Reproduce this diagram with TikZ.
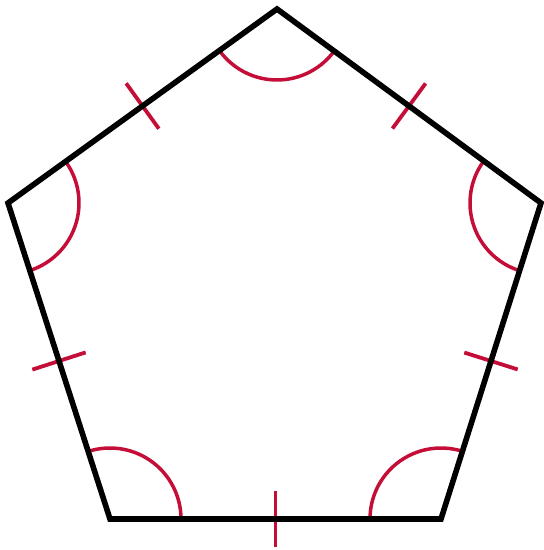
\documentclass[tikz,border=0pt]{standalone}
\usetikzlibrary{calc,angles}
\definecolor{mark}{RGB}{196,14,56}
\begin{document}
\begin{tikzpicture}[x=1pt,y=1pt,
  pent/.style={draw=black,line width=5.6pt,line join=miter},
  angarc/.style={draw=mark,line width=3.5pt,angle radius=71pt},
  tickmark/.style={draw=mark,line width=3.8pt}]
\useasboundingbox (0,0) rectangle (544,550);
\coordinate (A) at (277,541);
\coordinate (B) at (541,347);
\coordinate (C) at (441,31);
\coordinate (D) at (110,31);
\coordinate (E) at (8,347);
% angle arcs
\pic[angarc] {angle = E--A--B};
\pic[angarc] {angle = A--B--C};
\pic[angarc] {angle = B--C--D};
\pic[angarc] {angle = C--D--E};
\pic[angarc] {angle = D--E--A};
% tick marks
\foreach \p/\q in {A/B,B/C,C/D,D/E,E/A}{
  \draw[tickmark] ($(\p)!0.5!(\q)!28pt!90:(\q)$) -- ($(\p)!0.5!(\q)!28pt!-90:(\q)$);
}
% pentagon
\draw[pent] (A)--(B)--(C)--(D)--(E)--cycle;
\end{tikzpicture}
\end{document}
